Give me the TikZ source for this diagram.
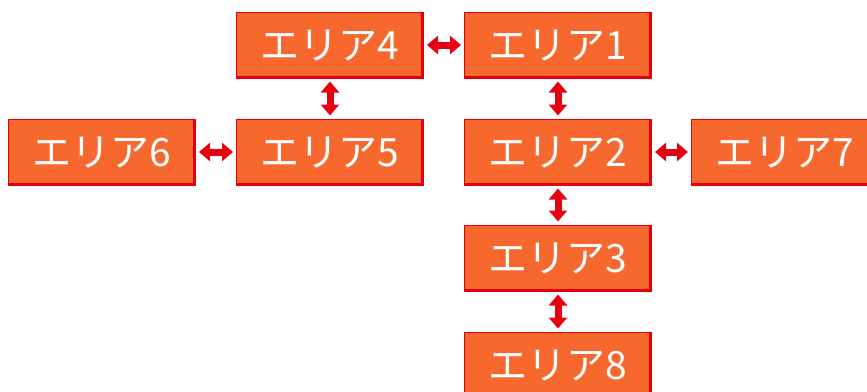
\documentclass[tikz,border=0pt]{standalone}
\usepackage{fontspec}
\newfontfamily\jpfont{Noto Sans CJK JP}
\usetikzlibrary{arrows.meta}
\definecolor{boxorange}{HTML}{F7682E}
\definecolor{boxred}{HTML}{E2000F}
\definecolor{arrred}{HTML}{E60012}
\begin{document}
\begin{tikzpicture}[x=1pt,y=-1pt,
  areabox/.style={fill=boxorange, draw=boxred, line width=1pt, minimum width=187pt, minimum height=66pt,
    inner sep=0pt, text=white, font=\jpfont\fontsize{39}{44}\selectfont,
    path picture={\draw[boxred, line width=5pt] (path picture bounding box.north east) -- (path picture bounding box.south east) -- (path picture bounding box.south west);}},
  link/.style={arrred, line width=7pt, {Triangle[length=11pt,width=18pt]}-{Triangle[length=11pt,width=18pt]}, shorten <=3pt, shorten >=3pt}]
\useasboundingbox (0,0) rectangle (867,391);
\clip (0,0) rectangle (867,391);
\node[areabox] (a4) at (330,45) {エリア4\hspace{6pt}};
\node[areabox] (a1) at (558,45) {エリア1\hspace{6pt}};
\node[areabox] (a6) at (102,152) {エリア6\hspace{6pt}};
\node[areabox] (a5) at (330,152) {エリア5\hspace{6pt}};
\node[areabox] (a2) at (558,152) {エリア2\hspace{6pt}};
\node[areabox] (a7) at (785,152) {エリア7\hspace{6pt}};
\node[areabox] (a3) at (558,258) {エリア3\hspace{6pt}};
\node[areabox] (a8) at (558,365) {エリア8\hspace{6pt}};
\draw[link] (a4.east) -- (a1.west);
\draw[link] (a4.south) -- (a5.north);
\draw[link] (a6.east) -- (a5.west);
\draw[link] (a1.south) -- (a2.north);
\draw[link] (a2.east) -- (a7.west);
\draw[link] (a2.south) -- (a3.north);
\draw[link] (a3.south) -- (a8.north);
\end{tikzpicture}
\end{document}
